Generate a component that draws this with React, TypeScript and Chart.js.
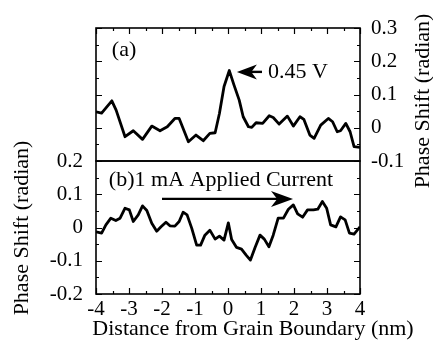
import React, { useEffect, useRef } from "react";
import { Chart, registerables } from "chart.js";
Chart.register(...registerables);

// ---- data ----
const xA = [-4.0, -3.83, -3.52, -3.39, -3.12, -2.87, -2.59, -2.31, -2.06, -1.84, -1.61, -1.48, -1.2, -0.97, -0.75, -0.55, -0.39, -0.26, -0.12, 0.04, 0.18, 0.34, 0.46, 0.62, 0.72, 0.85, 1.05, 1.25, 1.37, 1.55, 1.8, 1.98, 2.18, 2.3, 2.48, 2.61, 2.81, 3.04, 3.17, 3.31, 3.41, 3.57, 3.7, 3.82, 4.0];
const yA = [0.048, 0.044, 0.081, 0.053, -0.027, -0.009, -0.035, 0.005, -0.009, 0.003, 0.028, 0.028, -0.042, -0.022, -0.039, -0.017, -0.015, 0.043, 0.124, 0.172, 0.129, 0.083, 0.033, 0.003, 0.001, 0.015, 0.013, 0.036, 0.031, 0.011, 0.035, 0.005, 0.033, 0.025, -0.022, -0.032, 0.008, 0.028, 0.018, -0.012, -0.009, 0.013, -0.012, -0.057, -0.059];

const xB = [-4.0, -3.83, -3.7, -3.55, -3.4, -3.27, -3.12, -2.99, -2.87, -2.72, -2.59, -2.46, -2.31, -2.16, -2.03, -1.88, -1.76, -1.61, -1.48, -1.36, -1.24, -1.1, -0.95, -0.83, -0.7, -0.55, -0.39, -0.26, -0.12, 0.01, 0.11, 0.26, 0.41, 0.55, 0.68, 0.82, 0.97, 1.1, 1.24, 1.37, 1.52, 1.68, 1.83, 1.98, 2.11, 2.26, 2.41, 2.59, 2.72, 2.86, 2.99, 3.11, 3.27, 3.41, 3.55, 3.68, 3.82, 4.0];
const yB = [-0.013, -0.017, 0.008, 0.028, 0.021, 0.028, 0.058, 0.053, 0.018, 0.038, 0.065, 0.051, 0.013, -0.011, 0.002, 0.016, 0.005, 0.004, 0.018, 0.046, 0.038, -0.002, -0.053, -0.053, -0.023, -0.008, -0.035, -0.026, -0.038, 0.014, -0.036, -0.06, -0.065, -0.083, -0.098, -0.06, -0.023, -0.035, -0.058, -0.023, 0.028, 0.028, 0.055, 0.068, 0.041, 0.031, 0.053, 0.053, 0.055, 0.078, 0.058, 0.008, 0.002, 0.032, 0.023, -0.017, -0.02, 0.002];

const xRange = [-4, 4];
const topRange = [-0.1, 0.3];
const bottomRange = [-0.2, 0.2];

const labelA = "(a)";
const labelVoltage = "0.45 V";
const labelB = "(b)1 mA Applied Current";
const yTitle = "Phase Shift (radian)";
const xTitle = "Distance from Grain Boundary (nm)";

const FONT = "'Liberation Serif', 'Times New Roman', serif";

function arrow(ctx: CanvasRenderingContext2D, tipX: number, tipY: number, tailX: number, headLen: number, half: number) {
  const dir = tailX < tipX ? 1 : -1;
  ctx.beginPath();
  ctx.lineWidth = 2.4;
  ctx.moveTo(tailX, tipY);
  ctx.lineTo(tipX - dir * headLen * 0.7, tipY);
  ctx.stroke();
  ctx.beginPath();
  ctx.moveTo(tipX, tipY);
  ctx.lineTo(tipX - dir * headLen, tipY - half);
  ctx.lineTo(tipX - dir * headLen * 0.72, tipY);
  ctx.lineTo(tipX - dir * headLen, tipY + half);
  ctx.closePath();
  ctx.fill();
}

function frameAndTicks(chart: any, topX: boolean, bottomX: boolean) {
  const { ctx, chartArea: a, scales } = chart;
  const xs = scales.x, ys = scales.y;
  ctx.save();
  ctx.strokeStyle = "#000";
  ctx.fillStyle = "#000";
  ctx.lineWidth = 1.2;
  for (let i = 0; i <= 16; i++) {
    const v = xRange[0] + i * 0.5;
    const px = Math.round(xs.getPixelForValue(v)) + 0.5;
    const L = i % 2 === 0 ? 6 : 3;
    ctx.beginPath();
    if (topX) { ctx.moveTo(px, a.top); ctx.lineTo(px, a.top + L); }
    if (bottomX) { ctx.moveTo(px, a.bottom); ctx.lineTo(px, a.bottom - L); }
    ctx.stroke();
  }
  const n = Math.round((ys.max - ys.min) / 0.05);
  for (let i = 0; i <= n; i++) {
    const v = ys.min + i * 0.05;
    const py = Math.round(ys.getPixelForValue(v)) + 0.5;
    const L = i % 2 === 0 ? 6 : 3;
    ctx.beginPath();
    ctx.moveTo(a.left, py); ctx.lineTo(a.left + L, py);
    ctx.moveTo(a.right, py); ctx.lineTo(a.right - L, py);
    ctx.stroke();
  }
  ctx.lineWidth = 1.6;
  ctx.strokeRect(a.left, a.top, a.right - a.left, a.bottom - a.top);
  ctx.restore();
}

function vText(ctx: CanvasRenderingContext2D, text: string, x: number, y: number) {
  ctx.save();
  ctx.translate(x, y);
  ctx.rotate(-Math.PI / 2);
  ctx.textAlign = "center";
  ctx.textBaseline = "middle";
  ctx.fillText(text, 0, 0);
  ctx.restore();
}

const topDecor = {
  id: "topDecor",
  afterDraw(chart: any) {
    const { ctx, scales } = chart;
    const xs = scales.x, ys = scales.y;
    frameAndTicks(chart, true, false);
    ctx.save();
    ctx.fillStyle = "#000";
    ctx.strokeStyle = "#000";
    ctx.font = `22px ${FONT}`;
    ctx.textBaseline = "middle";
    ctx.textAlign = "left";
    ctx.fillText(labelA, xs.getPixelForValue(-3.52), ys.getPixelForValue(0.234));
    const ay = ys.getPixelForValue(0.168);
    arrow(ctx, xs.getPixelForValue(0.27), ay, xs.getPixelForValue(1.03), 20, 7.5);
    ctx.fillText(labelVoltage, xs.getPixelForValue(1.21), ay);
    vText(ctx, yTitle, 423, 101);
    ctx.restore();
  },
};

const bottomDecor = {
  id: "bottomDecor",
  afterDraw(chart: any) {
    const { ctx, scales } = chart;
    const xs = scales.x, ys = scales.y;
    frameAndTicks(chart, false, true);
    ctx.save();
    ctx.fillStyle = "#000";
    ctx.strokeStyle = "#000";
    ctx.font = `22px ${FONT}`;
    ctx.textBaseline = "middle";
    ctx.textAlign = "left";
    ctx.fillText(labelB, xs.getPixelForValue(-3.61), ys.getPixelForValue(0.143));
    const ay = ys.getPixelForValue(0.086);
    arrow(ctx, xs.getPixelForValue(1.97), ay, xs.getPixelForValue(-2.0), 22, 8);
    vText(ctx, yTitle, 22, 228);
    ctx.textAlign = "center";
    ctx.textBaseline = "alphabetic";
    ctx.fillText(xTitle, 253, 335);
    ctx.restore();
  },
};

const tickFont = { family: FONT, size: 21 };

export default function App() {
  const topRef = useRef<HTMLCanvasElement>(null);
  const botRef = useRef<HTMLCanvasElement>(null);

  useEffect(() => {
    const lineStyle = {
      borderColor: "#000",
      borderWidth: 2.8,
      pointRadius: 0,
      tension: 0,
      borderJoinStyle: "round" as const,
      fill: false,
    };
    const top = new Chart(topRef.current!, {
      type: "line",
      data: { datasets: [{ ...lineStyle, data: xA.map((x, i) => ({ x, y: yA[i] })) }] },
      options: {
        animation: false,
        responsive: false,
        events: [],
        layout: { padding: { left: 96, top: 28, right: 0, bottom: 184 } },
        plugins: { legend: { display: false }, tooltip: { enabled: false } },
        scales: {
          x: { type: "linear", display: false, min: xRange[0], max: xRange[1] },
          y: {
            type: "linear",
            position: "right",
            min: topRange[0],
            max: topRange[1],
            grid: { display: false, drawTicks: false, tickLength: 0 },
            border: { display: false },
            ticks: { stepSize: 0.1, font: tickFont, color: "#000", padding: 11, autoSkip: false },
            afterFit: (s: any) => { s.width = 73; },
          },
        },
      },
      plugins: [topDecor],
    });
    const bot = new Chart(botRef.current!, {
      type: "line",
      data: { datasets: [{ ...lineStyle, data: xB.map((x, i) => ({ x, y: yB[i] })) }] },
      options: {
        animation: false,
        responsive: false,
        events: [],
        layout: { padding: { left: 0, top: 161, right: 73, bottom: 0 } },
        plugins: { legend: { display: false }, tooltip: { enabled: false } },
        scales: {
          x: {
            type: "linear",
            position: "bottom",
            min: xRange[0],
            max: xRange[1],
            grid: { display: false, drawTicks: false, tickLength: 0 },
            border: { display: false },
            ticks: { stepSize: 1, font: tickFont, color: "#000", padding: 3, autoSkip: false, maxRotation: 0 },
            afterFit: (s: any) => { s.height = 51; },
          },
          y: {
            type: "linear",
            position: "left",
            min: bottomRange[0],
            max: bottomRange[1],
            grid: { display: false, drawTicks: false, tickLength: 0 },
            border: { display: false },
            ticks: { stepSize: 0.1, font: tickFont, color: "#000", padding: 13, autoSkip: false },
            afterFit: (s: any) => { s.width = 96; },
          },
        },
      },
      plugins: [bottomDecor],
    });
    return () => { top.destroy(); bot.destroy(); };
  }, []);

  return (
    <div style={{ position: "fixed", left: 0, top: 0, width: 433, height: 345, background: "#fff" }}>
      <canvas ref={botRef} width={433} height={345} style={{ position: "absolute", left: 0, top: 0 }} />
      <canvas ref={topRef} width={433} height={345} style={{ position: "absolute", left: 0, top: 0 }} />
    </div>
  );
}
